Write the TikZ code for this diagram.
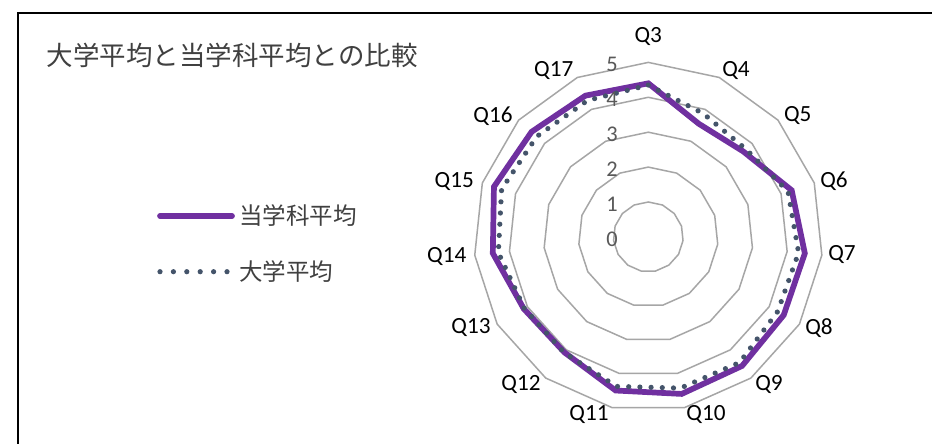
\documentclass[tikz,border=0pt]{standalone}
\usepackage{fontspec}
\setmainfont{Carlito}
\newfontfamily\jptitle{Noto Sans CJK JP}
\newfontfamily\jplegend{Noto Sans CJK JP}
\definecolor{deptpurple}{HTML}{7030A0}
\definecolor{univblue}{HTML}{44546A}
\definecolor{gridgray}{HTML}{A6A6A6}
\definecolor{ticktext}{HTML}{595959}
\definecolor{titletext}{HTML}{404040}
\tikzset{
  frameline/.style={line width=1pt, black},
  ringline/.style={line width=0.75pt, gridgray, line join=miter},
  deptline/.style={line width=2.85pt, deptpurple, line join=miter},
  univline/.style={line width=2.6pt, univblue, line cap=round, dash pattern=on 0pt off 5.6pt},
  qlabel/.style={font=\fontsize{11.6}{13}\selectfont, text=black, inner sep=0pt},
  ticklabel/.style={font=\fontsize{11.2}{13}\selectfont, text=ticktext, inner sep=0pt},
  legendtext/.style={font=\jplegend\fontsize{11.75}{13}\selectfont, text=titletext, inner sep=0pt, anchor=west},
}
\newcommand{\ru}{34.9}
\begin{document}
\begin{tikzpicture}[x=0.5pt,y=0.5pt]
\useasboundingbox (0,0) rectangle (932,444);
\fill[white] (0,0) rectangle (932,444);
% frame
\coordinate (fbl) at (18,-2);
\coordinate (ftl) at (18,431);
\coordinate (ftr) at (934,431);
\draw[frameline] (fbl) -- (ftl) -- (ftr);
% title
\node[font=\jptitle\fontsize{13.25}{15}\selectfont, text=titletext, inner sep=0pt, anchor=west] (title) at (46.5,389) {大学平均と当学科平均との比較};
% legend
\coordinate (lg1a) at (160,228);
\coordinate (lg1b) at (232,228);
\draw[deptline, line cap=round] (lg1a) -- (lg1b);
\node[legendtext] (lgt1) at (239,228) {当学科平均};
\coordinate (lg2a) at (160,172.3);
\coordinate (lg2b) at (228,172.3);
\draw[univline, dash pattern=on 0pt off 6.7pt] (lg2a) -- (lg2b);
\node[legendtext] (lgt2) at (239,172.3) {大学平均};
% radar
\begin{scope}[shift={(648.3,207.1)}]
  \coordinate (ctr) at (0,0);
  \foreach \r in {1,...,5}{
    \draw[ringline] (90:{\r*\ru}) \foreach \k in {1,...,14}{ -- ({90-24*\k}:{\r*\ru}) } -- cycle;
  }
  % 当学科平均
  \draw[deptline] (90:{4.40*\ru}) -- (66:{3.55*\ru}) -- (42:{3.66*\ru}) -- (18:{4.32*\ru})
    -- (-6:{4.51*\ru}) -- (-30:{4.48*\ru}) -- (-54:{4.57*\ru}) -- (-78:{4.60*\ru})
    -- (-102:{4.50*\ru}) -- (-126:{4.09*\ru}) -- (-150:{4.12*\ru}) -- (-174:{4.48*\ru})
    -- (-198:{4.65*\ru}) -- (-222:{4.50*\ru}) -- (-246:{4.43*\ru}) -- cycle;
  % 大学平均
  \draw[univline] (90:{4.35*\ru}) -- (66:{3.87*\ru}) -- (42:{3.76*\ru}) -- (18:{4.21*\ru})
    -- (-6:{4.33*\ru}) -- (-30:{4.28*\ru}) -- (-54:{4.45*\ru}) -- (-78:{4.43*\ru})
    -- (-102:{4.38*\ru}) -- (-126:{4.10*\ru}) -- (-150:{4.10*\ru}) -- (-174:{4.32*\ru})
    -- (-198:{4.42*\ru}) -- (-222:{4.30*\ru}) -- (-246:{4.28*\ru}) -- (90:{4.35*\ru});
  % tick labels
  \foreach \v in {0,...,5}{
    \node[ticklabel] (tick\v) at (-36.3,{\v*\ru-2}) {\v};
  }
\end{scope}
% category labels
\node[qlabel] (q3) at (648.3,407) {Q3};
\node[qlabel] (q4) at (736,373) {Q4};
\node[qlabel] (q5) at (797.7,328) {Q5};
\node[qlabel] (q6) at (834,263) {Q6};
\node[qlabel] (q7) at (842,189) {Q7};
\node[qlabel] (q8) at (819,116) {Q8};
\node[qlabel] (q9) at (769,59) {Q9};
\node[qlabel] (q10) at (706,29.3) {Q10};
\node[qlabel] (q11) at (589,29.3) {Q11};
\node[qlabel] (q12) at (521,59) {Q12};
\node[qlabel] (q13) at (471,116) {Q13};
\node[qlabel] (q14) at (446.7,187.3) {Q14};
\node[qlabel] (q15) at (454.2,262.3) {Q15};
\node[qlabel] (q16) at (493,328) {Q16};
\node[qlabel] (q17) at (553.8,373.3) {Q17};
\end{tikzpicture}
\end{document}
